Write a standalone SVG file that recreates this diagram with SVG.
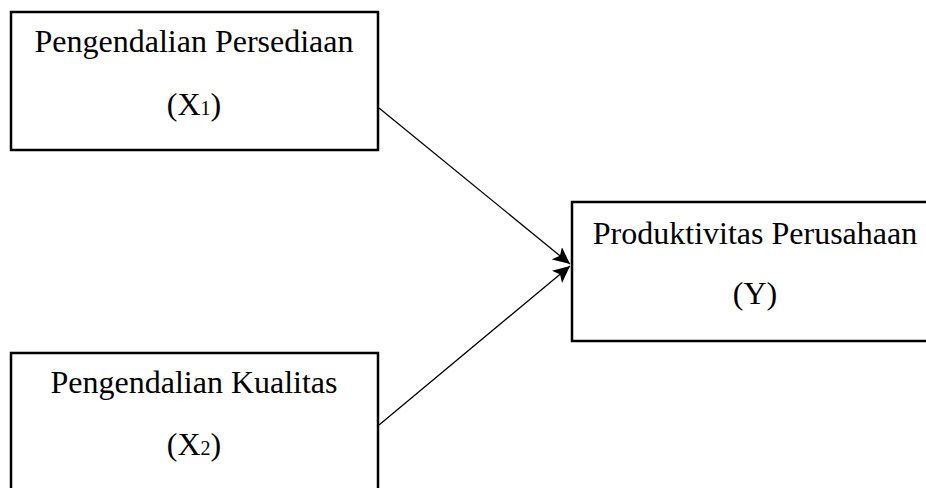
<svg xmlns="http://www.w3.org/2000/svg" width="926" height="488" viewBox="0 0 926 488">
<style>
.box{fill:#fff;stroke:#000;stroke-width:2.5}
.t{font-family:"Liberation Serif","Times New Roman",serif;font-size:32px;fill:#000;text-anchor:middle}
.sub{font-size:20px}
.conn{stroke:#000;stroke-width:1.3;fill:none;marker-end:url(#ah)}
</style>
<defs>
<marker id="ah" markerUnits="userSpaceOnUse" markerWidth="18" markerHeight="16" refX="17" refY="8" orient="auto">
<path d="M0,0 L17,8 L0,16 L4,8 Z" fill="#000"/>
</marker>
</defs>
<g id="x1">
<rect class="box" x="11" y="12" width="367" height="138"/>
<text class="t" x="194" y="52">Pengendalian Persediaan</text>
<text class="t" x="194" y="115">(X<tspan class="sub">1</tspan>)</text>
</g>
<g id="x2">
<rect class="box" x="11" y="353" width="367" height="145"/>
<text class="t" x="194" y="393">Pengendalian Kualitas</text>
<text class="t" x="194" y="455">(X<tspan class="sub">2</tspan>)</text>
</g>
<g id="y">
<rect class="box" x="572" y="202" width="356" height="139"/>
<text class="t" x="755" y="244">Produktivitas Perusahaan</text>
<text class="t" x="755" y="304">(Y)</text>
</g>
<g id="connectors">
<line class="conn" x1="379" y1="108" x2="570" y2="264"/>
<line class="conn" x1="379" y1="425" x2="570" y2="266"/>
</g>
</svg>
